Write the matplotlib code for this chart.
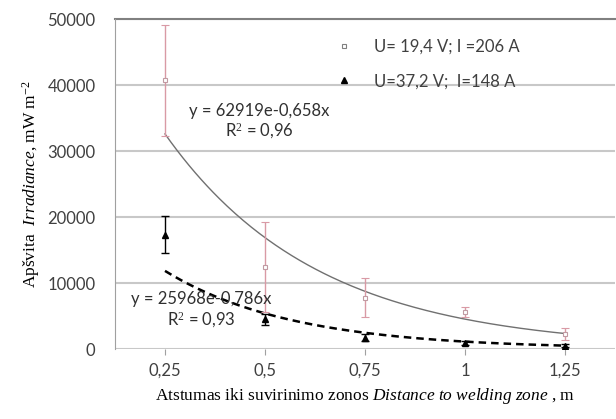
import numpy as np
import matplotlib
matplotlib.use('Agg')
import matplotlib.pyplot as plt
from matplotlib.lines import Line2D

# category axis (distance, m)
distances = ['0,25', '0,5', '0,75', '1', '1,25']

# U=19,4 V; I=206 A
irr_1 = [40700, 12400, 7800, 5600, 2300]
err_1 = [8400, 6800, 2950, 800, 900]

# U=37,2 V; I=148 A
irr_2 = [17300, 4500, 1700, 900, 500]
err_2 = [2800, 800, 500, 250, 250]

# exponential trendlines as printed on the chart (x = category number)
fit_a = [62919, 25968]
fit_b = [-0.658, -0.786]
fit_text = ['y = 62919e-0,658x\nR$^2$ = 0,96', 'y = 25968e-0,786x\nR$^2$ = 0,93']

labels = ['U= 19,4 V; I =206 A', 'U=37,2 V;  I=148 A']

plt.rcParams['font.family'] = ['Lato', 'DejaVu Sans']
plt.rcParams['mathtext.fontset'] = 'custom'
plt.rcParams['mathtext.rm'] = 'Liberation Serif'
plt.rcParams['mathtext.it'] = 'Liberation Serif:italic'

fig = plt.figure(figsize=(6.16, 4.19), dpi=100)
ax = fig.add_axes([115/616, 70/419, 500/616, 330/419])

x = np.arange(1, len(distances) + 1)
xs = np.linspace(1, len(distances), 200)

c1 = '#d99aa5'
ax.errorbar(x, irr_1, yerr=err_1, fmt='s', ms=3.5, mfc='white', mec='#c09aa2',
            mew=0.8, ecolor=c1, elinewidth=1, capsize=3, zorder=3)
ax.errorbar(x, irr_2, yerr=err_2, fmt='^', ms=5, mfc='black', mec='black',
            ecolor='black', elinewidth=1, capsize=3, zorder=3)

ax.plot(xs, fit_a[0] * np.exp(fit_b[0] * xs), color='#707070', lw=1, zorder=2)
ax.plot(xs, fit_a[1] * np.exp(fit_b[1] * xs), color='black', lw=1.8,
        dashes=(3, 2), zorder=2)

ax.text(1.94, 34400, fit_text[0], ha='center', va='center', fontsize=12,
        color='#303030', linespacing=1.2)
ax.text(1.36, 5800, fit_text[1], ha='center', va='center', fontsize=12,
        color='#303030', linespacing=1.2)

ax.set_xlim(0.5, len(distances) + 0.5)
ax.set_ylim(0, 50000)
ax.set_xticks(x)
ax.set_xticklabels(distances)
ax.set_yticks(np.arange(0, 50001, 10000))
ax.tick_params(axis='both', labelsize=12, colors='#404040', length=4)
ax.tick_params(axis='x', color='#a0a0a0', pad=6)
ax.tick_params(axis='y', length=0, pad=14)

ax.grid(axis='y', color='#c8c8c8', lw=1.5)
ax.set_axisbelow(True)
for s in ['top', 'right', 'bottom']:
    ax.spines[s].set_visible(False)
ax.spines['left'].set_color('#a0a0a0')
ax.axhline(50000, color='#808080', lw=1.5, clip_on=False)

ax.set_xlabel(r'Atstumas iki suvirinimo zonos $\it{Distance\ to\ welding\ zone}$ , m',
              fontfamily='Liberation Serif', fontsize=12.5, labelpad=5)
ax.set_ylabel(r'Apšvita  $\it{Irradiance}$, mW m$^{-2}$',
              fontfamily='Liberation Serif', fontsize=12.5, labelpad=4)

handles = [Line2D([], [], ls='', marker='s', ms=3.5, mfc='white', mec='#808080', mew=0.8),
           Line2D([], [], ls='', marker='^', ms=4, mfc='black', mec='black')]
ax.legend(handles, labels, loc='upper right', bbox_to_anchor=(0.84, 0.985),
          frameon=False, fontsize=12, labelcolor='#404040',
          handlelength=1, handletextpad=1.3, labelspacing=1.1)

fig.savefig('out.png', dpi=100)
